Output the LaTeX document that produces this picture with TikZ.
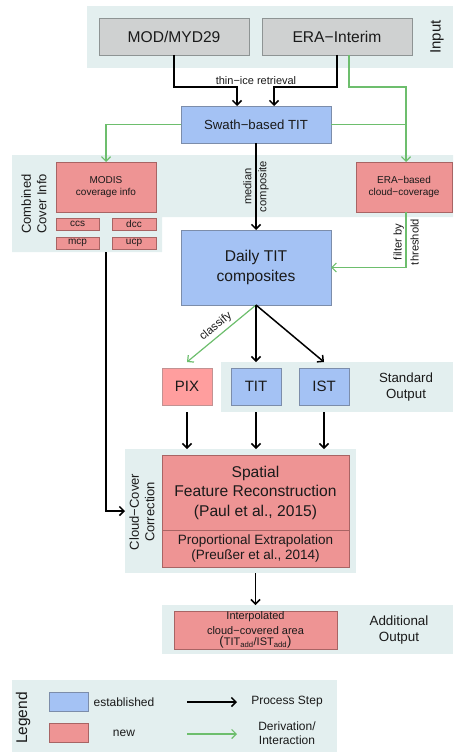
\documentclass[tikz,border=0pt]{standalone}
\usepackage{fontspec}
\setmainfont{Liberation Sans}
\usetikzlibrary{arrows.meta,calc}
\definecolor{panelbg}{HTML}{E3EFEF}
\definecolor{grayfill}{HTML}{CFD1D1}
\definecolor{graydraw}{HTML}{8E9494}
\definecolor{bluefill}{HTML}{A4C2F4}
\definecolor{bluedraw}{HTML}{7C8DAA}
\definecolor{redfill}{HTML}{EE9494}
\definecolor{reddraw}{HTML}{A86464}
\definecolor{pinkfill}{HTML}{FF9E9E}
\definecolor{derivgreen}{HTML}{6DBE6D}
\definecolor{txt}{HTML}{1A1A1A}
\newcommand\setfs[2]{\fontsize{#1}{#2}\selectfont}

\begin{document}
\begin{tikzpicture}[x=1pt,y=-1pt,
  every node/.style={text=txt},
  panel/.style={fill=panelbg,draw=none,inner sep=0pt,outer sep=0pt},
  basebox/.style={inner sep=0pt,outer sep=0pt,line width=0.8pt,align=center},
  inbox/.style={basebox,fill=grayfill,draw=graydraw},
  estbox/.style={basebox,fill=bluefill,draw=bluedraw},
  newbox/.style={basebox,fill=redfill,draw=reddraw},
  pixbox/.style={basebox,fill=pinkfill,draw=reddraw!70},
  proc/.style={line width=1.5pt,-{Straight Barb[length=4.5pt,width=9pt]}},
  deriv/.style={line width=1.2pt,derivgreen,-{Straight Barb[length=4.5pt,width=9pt]}},
  derivline/.style={line width=1.2pt,derivgreen},
  lbl/.style={inner sep=0pt,align=center,text=txt},
]
\useasboundingbox (0,0) rectangle (453,752);

% ---------- background panels ----------
\node[panel,minimum width=366pt,minimum height=62pt] (inpanel) at (270,37) {};
\fill[panelbg] (12,155) -- (453,155) -- (453,217) -- (162,217) -- (162,252) -- (12,252) -- cycle;
\coordinate (ccbot) at (106,252);
\node[panel,minimum width=232pt,minimum height=50pt] (stdpanel) at (337,387) {};
\node[panel,minimum width=231pt,minimum height=124pt] (ccpanel) at (240.5,511) {};
\node[panel,minimum width=291pt,minimum height=49pt] (addpanel) at (307.5,629.5) {};
\node[panel,minimum width=325pt,minimum height=72pt] (legpanel) at (174.5,716) {};

% ---------- input ----------
\node[inbox,minimum width=150pt,minimum height=37pt,font=\setfs{15.6}{18}] (mod) at (174,36.5) {MOD/MYD29};
\node[inbox,minimum width=150pt,minimum height=37pt,font=\setfs{15.6}{18}] (erai) at (337,36.5) {ERA−Interim};
\node[lbl,rotate=90,font=\setfs{15}{18}] (inlbl) at (437,37) {Input};

% ---------- swath level ----------
\node[estbox,minimum width=150pt,minimum height=37pt,font=\setfs{13.2}{16}] (swath) at (256,124.5) {Swath−based TIT};

% ---------- combined cover info ----------
\node[newbox,minimum width=100pt,minimum height=50pt,font=\setfs{10}{11.7}] (modis) at (106,187) {MODIS\\coverage info};
\node[newbox,minimum width=96pt,minimum height=50pt,font=\setfs{10}{11.7}] (erab) at (404,187) {ERA−based\\cloud−coverage};
\node[newbox,minimum width=43pt,minimum height=12pt,font=\setfs{10}{11}] (ccs) at (77.5,224) {ccs};
\node[newbox,minimum width=44pt,minimum height=12pt,font=\setfs{10}{11}] (dcc) at (134,224) {dcc};
\node[newbox,minimum width=43pt,minimum height=12pt,font=\setfs{10}{11}] (mcp) at (77.5,243) {mcp};
\node[newbox,minimum width=44pt,minimum height=12pt,font=\setfs{10}{11}] (ucp) at (134,243) {ucp};
\node[lbl,rotate=90,font=\setfs{13}{15.5}] (cclbl) at (34,204) {Combined\\Cover Info};

% ---------- daily composites ----------
\node[estbox,minimum width=150pt,minimum height=75pt,font=\setfs{15.6}{19.3}] (daily) at (256,267.5) {Daily TIT\\composites};

% ---------- standard output ----------
\node[pixbox,minimum width=50pt,minimum height=37pt,font=\setfs{15}{18}] (pix) at (187,386.5) {PIX};
\node[estbox,minimum width=50pt,minimum height=37pt,font=\setfs{15}{18}] (tit) at (256,386.5) {TIT};
\node[estbox,minimum width=50pt,minimum height=37pt,font=\setfs{15}{18}] (ist) at (324,386.5) {IST};
\node[lbl,font=\setfs{13.3}{16.7}] (stdlbl) at (406,387) {Standard\\Output};

% ---------- cloud-cover correction ----------
\node[newbox,minimum width=187pt,minimum height=75pt,font=\setfs{15.6}{19.5}] (spatial) at (255.5,492.5) {Spatial\\Feature Reconstruction\\(Paul et al., 2015)};
\node[newbox,minimum width=187pt,minimum height=37pt,font=\setfs{13.5}{15.7}] (prop) at (255.5,548.5) {Proportional Extrapolation\\(Preußer et al., 2014)};
\node[lbl,rotate=90,font=\setfs{13}{15.5}] (corrlbl) at (142,512) {Cloud−Cover\\Correction};

% ---------- additional output ----------
\node[newbox,minimum width=163pt,minimum height=38pt,font=\setfs{11}{15}] (interp) at (255.5,630)
  {Interpolated\\cloud−covered area\\[-4pt]{\setfs{13}{13}(}TIT\textsubscript{add}/IST\textsubscript{add}{\setfs{13}{13})}};
\node[lbl,font=\setfs{13.4}{16.7}] (addlbl) at (399,630) {Additional\\Output};

% ---------- connectors ----------
\coordinate (gtop) at (406,87);
\draw[proc] (mod.south) -- (mod.south |- gtop) -| ([xshift=-19pt]swath.north);
\draw[proc] (erai.south) -- (erai.south |- gtop) -| ([xshift=18pt]swath.north);
\node[lbl,font=\setfs{11}{13}] (thinlbl) at (256,81) {thin−ice retrieval};

\draw[deriv] ([xshift=12pt]erai.south) |- (gtop) -- (gtop |- erab.north);
\draw[derivline] (swath.east) -- (swath.east -| gtop);
\draw[deriv] (swath.west) -| (modis.north);

\draw[proc] (swath.south) -- node[lbl,rotate=90,font=\setfs{11.2}{15}] {median\\composite} (daily.north);
\draw[deriv] (gtop |- erab.south) |- node[pos=0.27,lbl,rotate=90,font=\setfs{11.2}{17}] {filter by\\threshold} (daily.east);

\draw[deriv] (daily.south) -- node[lbl,sloped,above=3pt,font=\setfs{11.5}{13}] {classify} (pix.north |- stdpanel.north);
\draw[proc] (daily.south) -- (tit.north |- stdpanel.north);
\draw[proc] (daily.south) -- (ist.north |- stdpanel.north);

\draw[proc] (pix.south |- stdpanel.south) -- (pix.south |- ccpanel.north);
\draw[proc] (tit.south |- stdpanel.south) -- (tit.south |- ccpanel.north);
\draw[proc] (ist.south |- stdpanel.south) -- (ist.south |- ccpanel.north);

\draw[proc] (ccbot) |- (ccpanel.west);
\draw[proc] (prop.south |- ccpanel.south) -- (prop.south |- addpanel.north);

% ---------- legend ----------
\node[lbl,rotate=90,font=\setfs{15.5}{18}] (leglbl) at (23,718) {Legend};
\node[estbox,minimum width=39pt,minimum height=19pt] (swblue) at (68.5,701.5) {};
\node[newbox,minimum width=39pt,minimum height=19pt] (swred) at (68.5,732.5) {};
\node[lbl,font=\setfs{12}{14}] (estlbl) at (124,702) {established};
\node[lbl,font=\setfs{12}{14}] (newlbl) at (124,733) {new};
\coordinate (pa) at (187,702);
\coordinate (pb) at (237,702);
\coordinate (da) at (187,734);
\coordinate (db) at (237,734);
\draw[proc] (pa) -- (pb);
\draw[deriv] (da) -- (db);
\node[lbl,font=\setfs{12}{14.5}] (proclbl) at (287,702) {Process Step};
\node[lbl,font=\setfs{12}{14.5}] (derlbl) at (287,733) {Derivation/\\Interaction};
\end{tikzpicture}
\end{document}
